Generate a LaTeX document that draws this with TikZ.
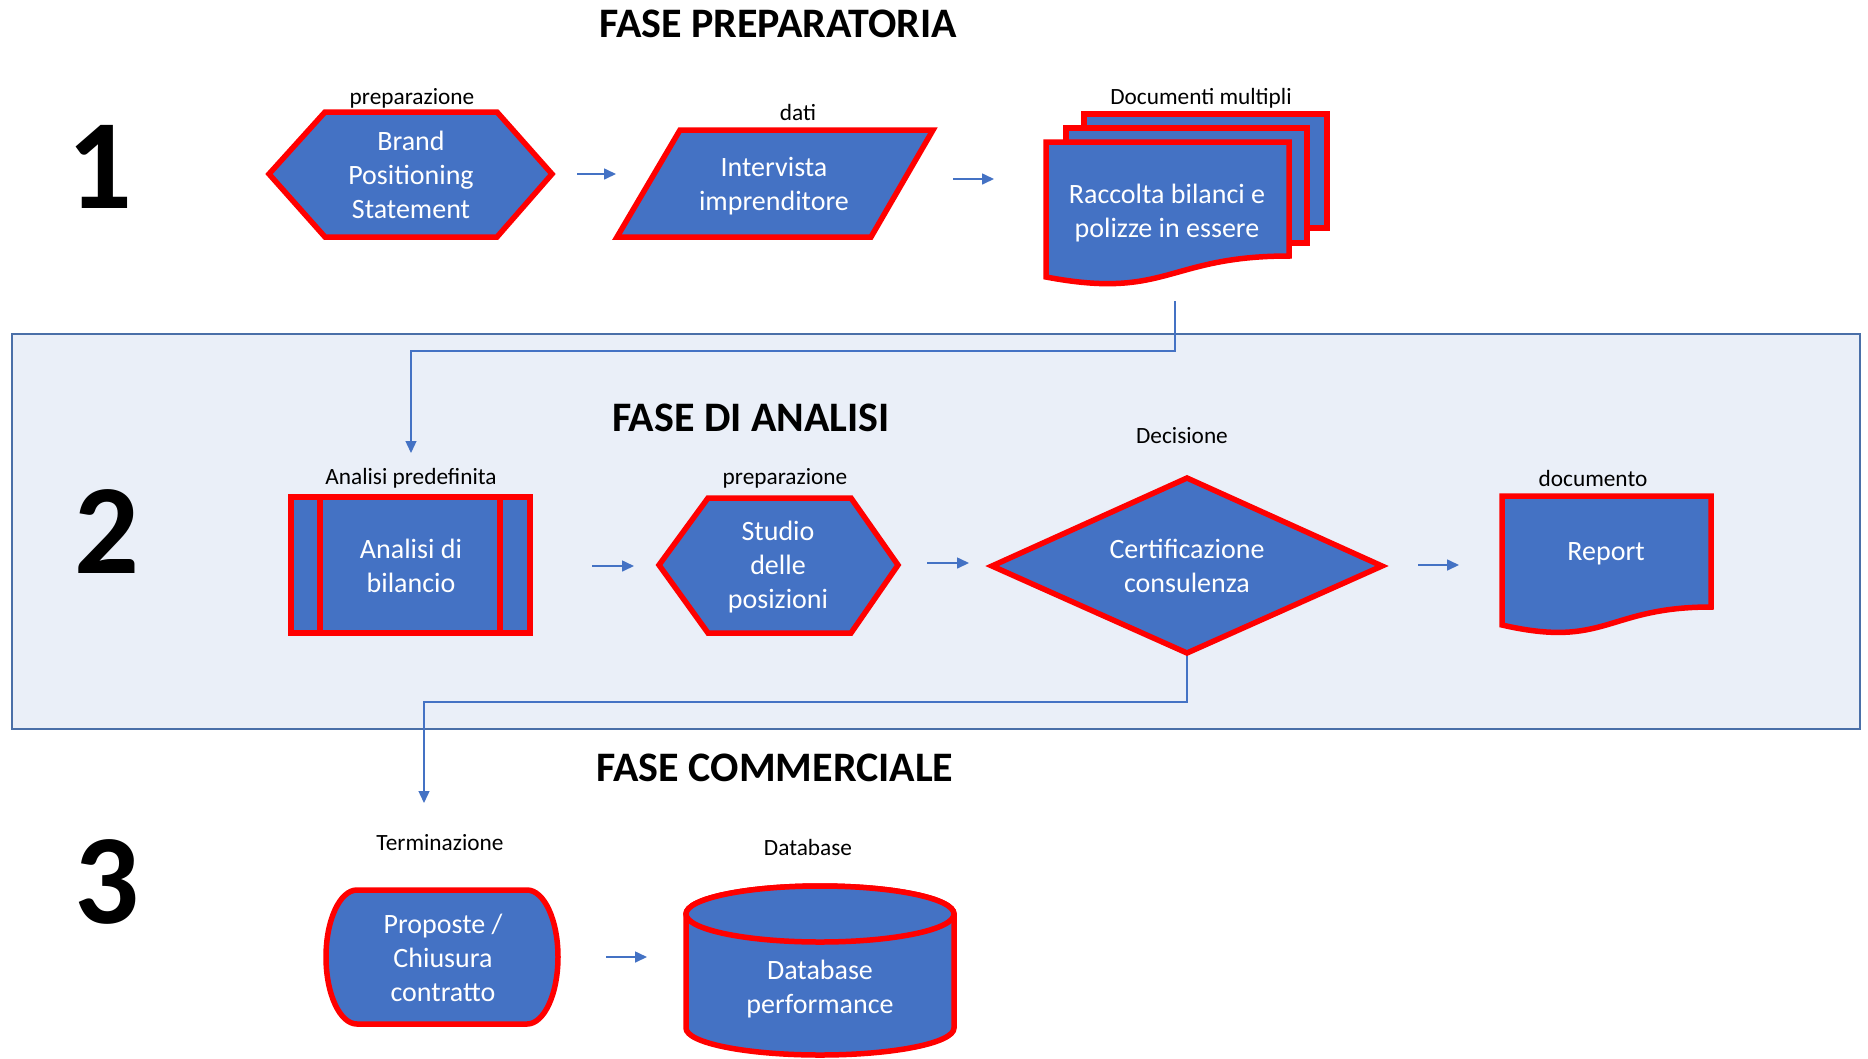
\documentclass[tikz,border=0pt]{standalone}
\usepackage{fontspec}
\setmainfont{Carlito}
\usetikzlibrary{arrows.meta}
\definecolor{shapeblue}{HTML}{4472C4}
\definecolor{shapered}{HTML}{FF0000}
\definecolor{panelfill}{HTML}{EAEFF8}
\definecolor{panelline}{HTML}{4A6FA8}
\definecolor{connblue}{HTML}{4472C4}
\begin{document}
\begin{tikzpicture}[x=1pt,y=-1pt,
 shp/.style={fill=shapeblue, draw=shapered, line width=5.5pt, line join=miter},
 txt/.style={text=white, align=center, font=\fontsize{28}{34}\selectfont, inner sep=0pt},
 lbl/.style={text=black, font=\fontsize{23.3}{27}\selectfont, inner sep=0pt},
 ttl/.style={font=\bfseries\fontsize{42}{50}\selectfont, inner sep=0pt},
 num/.style={font=\bfseries\fontsize{128}{140}\selectfont, inner sep=0pt},
 arr/.style={draw=connblue, line width=1.6pt, -{Triangle[length=12pt,width=11pt]}},
 elbow/.style={draw=connblue, line width=1.3pt, -{Triangle[length=12pt,width=11pt]}}]

\useasboundingbox (0,0) rectangle (1868,1058);

% phase 2 panel
\draw[fill=panelfill, draw=panelline, line width=2.5pt] (12,334) rectangle (1860,729);

% titles and numbers
\node[ttl] (t1) at (778,24) {FASE PREPARATORIA};
\node[ttl] (t2) at (751,418) {FASE DI ANALISI};
\node[ttl] (t3) at (775,768) {FASE COMMERCIALE};
\node[num] (n1) at (100,167) {1};
\node[num] (n2) at (107,532) {2};
\node[num] (n3) at (107,882) {3};

% elbow connectors
\coordinate (e1s) at (1175,301);
\coordinate (e1e) at (411,453);
\draw[elbow] (e1s) -- ++(0,50) -| (e1e);
\coordinate (e2s) at (1187,653);
\coordinate (e2e) at (424,803);
\draw[elbow] (e2s) -- (1187,702) -| (e2e);

% ---- row 1 ----
\draw[shp] (269,174) -- (325,112) -- (497,112) -- (552,174) -- (497,237) -- (325,237) -- cycle;
\node[txt] (bps) at (411,175) {Brand\\Positioning\\Statement};
\node[lbl] (l1) at (412,98) {preparazione};

\draw[shp] (680,130) -- (933,130) -- (871,237) -- (617,237) -- cycle;
\node[txt] (int) at (774,186) {Intervista\\imprenditore};
\node[lbl] (l2) at (798,112) {dati};

\draw[shp] (1084,114) rectangle (1327,228);
\draw[shp] (1066,128) rectangle (1307,243);
\draw[shp] (1046,142) -- (1289,142) -- (1289,256) .. controls (1167,256) and (1167,300) .. (1046,277) -- cycle;
\node[txt] (rac) at (1167,213) {Raccolta bilanci e\\polizze in essere};
\node[lbl] (l3) at (1201,98) {Documenti multipli};

\coordinate (a1s) at (577,174); \coordinate (a1e) at (616,174);
\draw[arr] (a1s) -- (a1e);
\coordinate (a2s) at (953,179); \coordinate (a2e) at (994,179);
\draw[arr] (a2s) -- (a2e);

% ---- row 2 ----
\draw[shp] (291,497) rectangle (530,633);
\draw[draw=shapered, line width=5.5pt] (320,497) -- (320,633) (500,497) -- (500,633);
\node[txt] (anb) at (411,566) {Analisi di\\bilancio};
\node[lbl] (l4) at (411,478) {Analisi predefinita};

\draw[shp] (659,565) -- (708,498) -- (851,498) -- (898,565) -- (851,633) -- (708,633) -- cycle;
\node[txt] (stu) at (778,567) {Studio\\delle\\posizioni};
\node[lbl] (l5) at (785,478) {preparazione};

\draw[shp] (992,566) -- (1187,478) -- (1382,566) -- (1187,653) -- cycle;
\node[txt] (cer) at (1187,566) {Certificazione\\consulenza};
\node[lbl] (l6) at (1182,436) {Decisione};

\draw[shp] (1502,496) -- (1711,496) -- (1711,607) .. controls (1606,607) and (1606,649) .. (1502,625) -- cycle;
\node[txt] (rep) at (1606,554) {Report};
\node[lbl] (l7) at (1593,478) {documento};

\coordinate (a3s) at (592,566); \coordinate (a3e) at (634,566);
\draw[arr] (a3s) -- (a3e);
\coordinate (a4s) at (927,563); \coordinate (a4e) at (969,563);
\draw[arr] (a4s) -- (a4e);
\coordinate (a5s) at (1418,565); \coordinate (a5e) at (1459,565);
\draw[arr] (a5s) -- (a5e);

% ---- row 3 ----
\draw[shp] (357,890) -- (527,890) arc[start angle=90, end angle=-90, x radius=31pt, y radius=67pt]
  -- (357,1024) arc[start angle=270, end angle=90, x radius=31pt, y radius=67pt] -- cycle;
\node[txt] (pro) at (443,958) {Proposte /\\Chiusura\\contratto};
\node[lbl] (l8) at (440,843) {Terminazione};

\draw[shp] (686,914) -- (686,1028) arc[start angle=180, end angle=360, x radius=134pt, y radius=27pt]
  -- (954,914) arc[start angle=0, end angle=180, x radius=134pt, y radius=28pt] -- cycle;
\draw[shp] (820,914) ellipse[x radius=134pt, y radius=28pt];
\node[txt] (dbp) at (820,989) {Database\\performance};
\node[lbl] (l9) at (808,847) {Database};

\coordinate (a6s) at (606,957); \coordinate (a6e) at (647,957);
\draw[arr] (a6s) -- (a6e);
\end{tikzpicture}
\end{document}
